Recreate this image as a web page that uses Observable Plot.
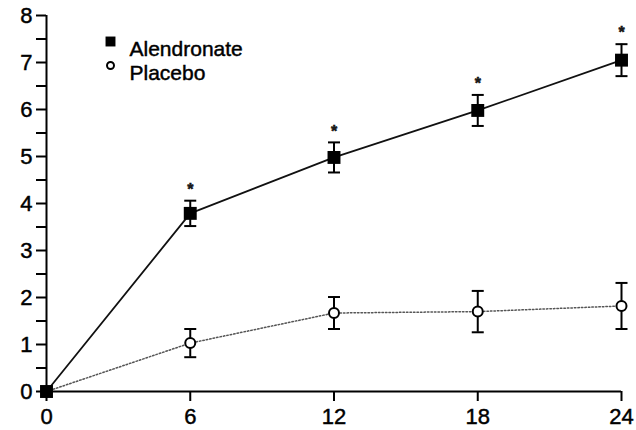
<!DOCTYPE html>
<html>
<head>
<meta charset="utf-8">
<script src="https://cdn.jsdelivr.net/npm/d3@7"></script>
<script src="https://cdn.jsdelivr.net/npm/@observablehq/plot@0.6"></script>
<style>
  html, body { margin: 0; padding: 0; background: #fff; }
  #chart svg { display: block; }
  #chart svg text { stroke: #000; stroke-width: 0.45px; }
</style>
</head>
<body>
<div id="chart"></div>
<script>
const months = [0, 6, 12, 18, 24];
const alendronate = [0, 3.79, 4.98, 5.98, 7.05];
const alendronateErr = [0, 0.27, 0.32, 0.33, 0.34];
const placebo = [0, 1.03, 1.67, 1.70, 1.82];
const placeboErr = [0, 0.30, 0.34, 0.44, 0.49];
const significant = [false, true, true, true, true];
const xTicks = [0, 6, 12, 18, 24];
const yTicks = [0, 1, 2, 3, 4, 5, 6, 7, 8];
const yMinorTicks = [0.5, 1.5, 2.5, 3.5, 4.5, 5.5, 6.5, 7.5];
const legendLabels = ["Alendronate", "Placebo"];

const alen = months.map((m, i) => ({month: m, value: alendronate[i], err: alendronateErr[i], sig: significant[i]}));
const plac = months.map((m, i) => ({month: m, value: placebo[i], err: placeboErr[i]}));
const alenErr = alen.filter(d => d.err > 0);
const placErr = plac.filter(d => d.err > 0);

const capSymbol = {
  draw(context, size) {
    const w = Math.sqrt(size) / 2;
    context.moveTo(-w, 0);
    context.lineTo(w, 0);
  }
};
const capR = 12 / Math.sqrt(Math.PI);
const font = "'Liberation Sans', Arial, sans-serif";

const chart = Plot.plot({
  width: 636,
  height: 430,
  marginLeft: 46,
  marginRight: 15,
  marginTop: 15,
  marginBottom: 39,
  style: {fontFamily: font, fontSize: "22px", background: "#fff", color: "#000"},
  x: {domain: [0, 24]},
  y: {domain: [0, 8]},
  marks: [
    // axes
    Plot.axisY(yTicks, {tickSize: 10, tickPadding: 4, strokeWidth: 2, label: null, fill: "#000"}),
    Plot.axisY(yMinorTicks, {tickSize: 10, tickFormat: () => "", strokeWidth: 2, label: null}),
    Plot.axisX(xTicks, {tickSize: 10, tickPadding: 7, strokeWidth: 2, label: null, fill: "#000"}),
    Plot.ruleX([0], {y1: 0, y2: 8, strokeWidth: 2}),
    Plot.ruleY([0], {x1: 0, x2: 24, strokeWidth: 2}),
    // placebo
    Plot.line(plac, {x: "month", y: "value", stroke: "#555", strokeWidth: 1.5, strokeDasharray: "1.5,2"}),
    Plot.ruleX(placErr, {x: "month", y1: d => d.value - d.err, y2: d => d.value + d.err, strokeWidth: 2}),
    Plot.dot(placErr, {x: "month", y: d => d.value - d.err, symbol: capSymbol, r: capR, stroke: "#000", strokeWidth: 2}),
    Plot.dot(placErr, {x: "month", y: d => d.value + d.err, symbol: capSymbol, r: capR, stroke: "#000", strokeWidth: 2}),
    Plot.dot(plac, {x: "month", y: "value", r: 5, fill: "#fff", stroke: "#000", strokeWidth: 2}),
    // alendronate
    Plot.line(alen, {x: "month", y: "value", stroke: "#111", strokeWidth: 1.8}),
    Plot.ruleX(alenErr, {x: "month", y1: d => d.value - d.err, y2: d => d.value + d.err, strokeWidth: 2}),
    Plot.dot(alenErr, {x: "month", y: d => d.value - d.err, symbol: capSymbol, r: capR, stroke: "#000", strokeWidth: 2}),
    Plot.dot(alenErr, {x: "month", y: d => d.value + d.err, symbol: capSymbol, r: capR, stroke: "#000", strokeWidth: 2}),
    Plot.dot(alen, {x: "month", y: "value", symbol: "square", r: 7.3, fill: "#000"}),
    Plot.text(alen.filter(d => d.sig), {x: "month", y: d => d.value + d.err, text: () => "*", dy: -11, fontSize: 16, fill: "#222", fontWeight: "bold"}),
    // legend
    Plot.dot([legendLabels[0]], {frameAnchor: "top-left", dx: 64, dy: 26, symbol: "square", r: 5.6, fill: "#000"}),
    Plot.dot([legendLabels[1]], {frameAnchor: "top-left", dx: 64, dy: 50, r: 3.5, fill: "#fff", stroke: "#000", strokeWidth: 2}),
    Plot.text([legendLabels[0]], {frameAnchor: "top-left", dx: 83, dy: 26, text: d => d, textAnchor: "start", fontSize: 21, fill: "#000"}),
    Plot.text([legendLabels[1]], {frameAnchor: "top-left", dx: 83, dy: 50, text: d => d, textAnchor: "start", fontSize: 21, fill: "#000"})
  ]
});
document.getElementById("chart").appendChild(chart);
</script>
</body>
</html>
